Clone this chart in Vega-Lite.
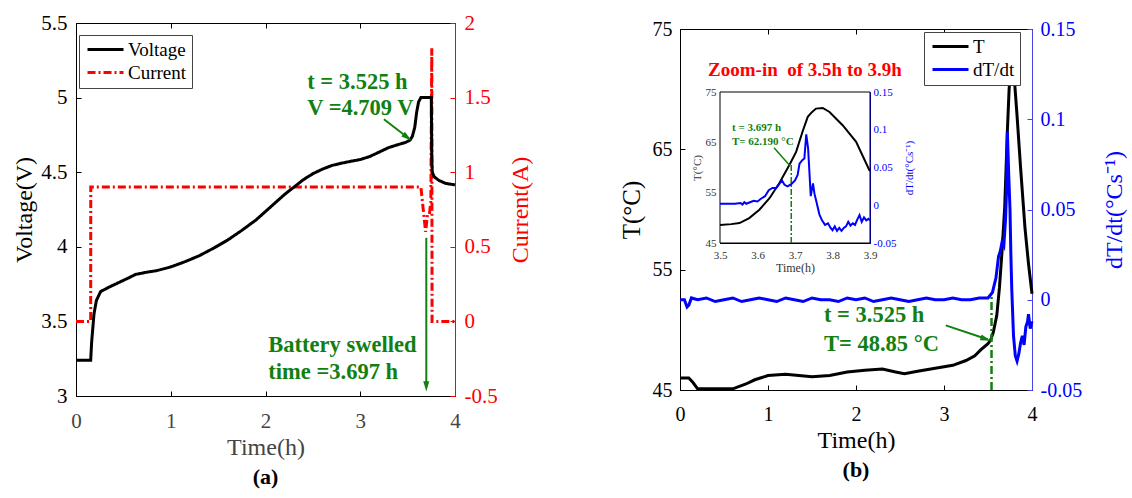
{
  "$schema": "https://vega.github.io/schema/vega-lite/v6.json",
  "background": "white",
  "padding": {"left": 12, "top": 11, "right": 0, "bottom": 0},
  "bounds": "flush",
  "center": true,
  "spacing": 225,
  "config": {
    "font": "Liberation Serif",
    "view": {"stroke": "black", "strokeWidth": 1},
    "axis": {"grid": false, "tickSize": -5, "tickColor": "black", "domainColor": "black", "labelColor": "black", "titleColor": "black", "titleFontWeight": "normal", "labelFont": "Liberation Serif", "titleFont": "Liberation Serif", "labelFlush": false, "labelOverlap": false, "labelExpr": "'' + datum.value"},
    "text": {"font": "Liberation Serif"},
    "title": {"font": "Liberation Serif", "color": "black"}
  },
  "resolve": {"scale": {"color": "independent", "strokeDash": "independent"}, "legend": {"color": "independent", "strokeDash": "independent"}},
  "datasets": {
    "volt": [
      {"t": 0, "v": 3.24}, {"t": 0.155, "v": 3.24}, {"t": 0.165, "v": 3.36}, {"t": 0.19, "v": 3.55}, {"t": 0.215, "v": 3.64}, {"t": 0.26, "v": 3.7}, {"t": 0.35, "v": 3.73}, {"t": 0.45, "v": 3.76}, {"t": 0.55, "v": 3.79}, {"t": 0.63, "v": 3.815}, {"t": 0.75, "v": 3.83}, {"t": 0.85, "v": 3.84}, {"t": 1.0, "v": 3.865}, {"t": 1.15, "v": 3.9}, {"t": 1.3, "v": 3.94}, {"t": 1.45, "v": 3.99}, {"t": 1.6, "v": 4.045}, {"t": 1.75, "v": 4.11}, {"t": 1.9, "v": 4.18}, {"t": 2.05, "v": 4.265}, {"t": 2.2, "v": 4.35}, {"t": 2.3, "v": 4.4}, {"t": 2.4, "v": 4.45}, {"t": 2.5, "v": 4.49}, {"t": 2.6, "v": 4.52}, {"t": 2.7, "v": 4.545}, {"t": 2.8, "v": 4.56}, {"t": 2.9, "v": 4.573}, {"t": 3.0, "v": 4.585}, {"t": 3.1, "v": 4.605}, {"t": 3.2, "v": 4.635}, {"t": 3.3, "v": 4.665}, {"t": 3.4, "v": 4.685}, {"t": 3.48, "v": 4.7}, {"t": 3.525, "v": 4.715}, {"t": 3.55, "v": 4.74}, {"t": 3.575, "v": 4.8}, {"t": 3.595, "v": 4.9}, {"t": 3.615, "v": 4.97}, {"t": 3.64, "v": 5.0}, {"t": 3.75, "v": 5.0}, {"t": 3.755, "v": 4.6}, {"t": 3.76, "v": 4.5}, {"t": 3.78, "v": 4.47}, {"t": 3.83, "v": 4.445}, {"t": 3.9, "v": 4.425}, {"t": 4.0, "v": 4.415}
    ],
    "curr": [
      {"t": 0, "i": 0}, {"t": 0.155, "i": 0}, {"t": 0.156, "i": 0.9}, {"t": 3.64, "i": 0.9}, {"t": 3.665, "i": 0.75}, {"t": 3.69, "i": 0.6}, {"t": 3.71, "i": 0.72}, {"t": 3.73, "i": 0.72}, {"t": 3.745, "i": 0.8}, {"t": 3.755, "i": 1.83}, {"t": 3.758, "i": 0.0}, {"t": 4.0, "i": 0.0}
    ],
    "textA": [
      {"t": 2.44, "v": 5.106, "label": "t = 3.525 h"},
      {"t": 2.44, "v": 4.931, "label": "V =4.709 V"},
      {"t": 2.03, "v": 3.341, "label": "Battery swelled"},
      {"t": 2.03, "v": 3.159, "label": "time =3.697 h"}
    ],
    "ruleA": [
      {"t": 3.25, "v": 4.855, "t2": 3.52, "v2": 4.722},
      {"t": 3.697, "v": 4.06, "t2": 3.697, "v2": 3.07}
    ],
    "headA1": [{"t": 3.54, "v": 4.713}],
    "headA2": [{"t": 3.697, "v": 3.03}],
    "tempMain": [
      {"t": 0, "T": 46.0}, {"t": 0.1, "T": 46.0}, {"t": 0.15, "T": 45.6}, {"t": 0.2, "T": 45.1}, {"t": 0.4, "T": 45.1}, {"t": 0.6, "T": 45.1}, {"t": 0.75, "T": 45.5}, {"t": 0.85, "T": 45.85}, {"t": 1.0, "T": 46.2}, {"t": 1.2, "T": 46.3}, {"t": 1.35, "T": 46.2}, {"t": 1.5, "T": 46.1}, {"t": 1.7, "T": 46.2}, {"t": 1.9, "T": 46.5}, {"t": 2.1, "T": 46.65}, {"t": 2.3, "T": 46.75}, {"t": 2.45, "T": 46.5}, {"t": 2.55, "T": 46.35}, {"t": 2.7, "T": 46.55}, {"t": 2.9, "T": 46.8}, {"t": 3.1, "T": 47.05}, {"t": 3.25, "T": 47.45}, {"t": 3.35, "T": 47.85}, {"t": 3.42, "T": 48.35}, {"t": 3.5, "T": 48.85}, {"t": 3.53, "T": 49.15}, {"t": 3.56, "T": 49.8}, {"t": 3.6, "T": 51.2}, {"t": 3.63, "T": 53.5}, {"t": 3.66, "T": 56.6}, {"t": 3.69, "T": 60.2}, {"t": 3.72, "T": 66.5}, {"t": 3.74, "T": 70.0}, {"t": 3.76, "T": 71.8}, {"t": 3.78, "T": 71.9}, {"t": 3.8, "T": 70.8}, {"t": 3.83, "T": 67.8}, {"t": 3.87, "T": 63.5}, {"t": 3.92, "T": 58.5}, {"t": 3.96, "T": 55.5}, {"t": 4.0, "T": 53.0}
    ],
    "dtMain": [
      {"t": 0, "d": 0.0}, {"t": 0.05, "d": 0.0}, {"t": 0.08, "d": -0.004}, {"t": 0.1, "d": -0.003}, {"t": 0.13, "d": 0.001}, {"t": 0.2, "d": 0.0}, {"t": 0.3, "d": 0.001}, {"t": 0.4, "d": -0.001}, {"t": 0.5, "d": 0.0}, {"t": 0.6, "d": 0.001}, {"t": 0.7, "d": -0.001}, {"t": 0.8, "d": 0.0}, {"t": 0.9, "d": 0.001}, {"t": 1.0, "d": 0.0}, {"t": 1.1, "d": -0.001}, {"t": 1.2, "d": 0.001}, {"t": 1.3, "d": 0.0}, {"t": 1.4, "d": -0.001}, {"t": 1.5, "d": 0.001}, {"t": 1.6, "d": 0.0}, {"t": 1.7, "d": 0.0}, {"t": 1.8, "d": -0.001}, {"t": 1.9, "d": 0.001}, {"t": 2.0, "d": 0.0}, {"t": 2.1, "d": 0.001}, {"t": 2.2, "d": -0.001}, {"t": 2.3, "d": 0.0}, {"t": 2.4, "d": 0.001}, {"t": 2.5, "d": 0.0}, {"t": 2.6, "d": -0.001}, {"t": 2.7, "d": 0.0}, {"t": 2.8, "d": 0.001}, {"t": 2.9, "d": 0.0}, {"t": 3.0, "d": 0.0}, {"t": 3.1, "d": 0.001}, {"t": 3.2, "d": 0.0}, {"t": 3.3, "d": 0.0}, {"t": 3.4, "d": 0.001}, {"t": 3.5, "d": 0.001}, {"t": 3.55, "d": 0.004}, {"t": 3.59, "d": 0.012}, {"t": 3.62, "d": 0.024}, {"t": 3.64, "d": 0.027}, {"t": 3.66, "d": 0.032}, {"t": 3.68, "d": 0.03}, {"t": 3.7, "d": 0.045}, {"t": 3.71, "d": 0.06}, {"t": 3.72, "d": 0.093}, {"t": 3.735, "d": 0.07}, {"t": 3.75, "d": 0.05}, {"t": 3.76, "d": 0.025}, {"t": 3.77, "d": 0.006}, {"t": 3.79, "d": -0.02}, {"t": 3.81, "d": -0.031}, {"t": 3.83, "d": -0.034}, {"t": 3.85, "d": -0.03}, {"t": 3.87, "d": -0.024}, {"t": 3.89, "d": -0.02}, {"t": 3.91, "d": -0.025}, {"t": 3.93, "d": -0.015}, {"t": 3.95, "d": -0.012}, {"t": 3.96, "d": -0.008}, {"t": 3.98, "d": -0.016}, {"t": 4.0, "d": -0.012}
    ],
    "tempIn": [
      {"t": 3.5, "T": 48.6}, {"t": 3.53, "T": 48.75}, {"t": 3.552, "T": 48.96}, {"t": 3.578, "T": 49.95}, {"t": 3.605, "T": 51.6}, {"t": 3.632, "T": 53.9}, {"t": 3.658, "T": 56.87}, {"t": 3.685, "T": 60.5}, {"t": 3.703, "T": 63.1}, {"t": 3.72, "T": 67.1}, {"t": 3.734, "T": 70.06}, {"t": 3.745, "T": 71.0}, {"t": 3.756, "T": 71.7}, {"t": 3.774, "T": 71.84}, {"t": 3.792, "T": 71.04}, {"t": 3.827, "T": 68.4}, {"t": 3.863, "T": 65.1}, {"t": 3.898, "T": 59.5}, {"t": 3.9, "T": 59.3}
    ],
    "dtIn": [
      {"t": 3.5, "d": 0.002}, {"t": 3.52, "d": 0.002}, {"t": 3.54, "d": 0.002}, {"t": 3.555, "d": 0.003}, {"t": 3.56, "d": 0.001}, {"t": 3.565, "d": 0.004}, {"t": 3.57, "d": 0.002}, {"t": 3.58, "d": 0.004}, {"t": 3.59, "d": 0.006}, {"t": 3.6, "d": 0.005}, {"t": 3.61, "d": 0.009}, {"t": 3.62, "d": 0.012}, {"t": 3.63, "d": 0.02}, {"t": 3.64, "d": 0.023}, {"t": 3.65, "d": 0.023}, {"t": 3.655, "d": 0.026}, {"t": 3.665, "d": 0.033}, {"t": 3.672, "d": 0.027}, {"t": 3.68, "d": 0.025}, {"t": 3.69, "d": 0.028}, {"t": 3.7, "d": 0.033}, {"t": 3.707, "d": 0.04}, {"t": 3.712, "d": 0.055}, {"t": 3.72, "d": 0.06}, {"t": 3.725, "d": 0.062}, {"t": 3.73, "d": 0.094}, {"t": 3.735, "d": 0.075}, {"t": 3.742, "d": 0.012}, {"t": 3.748, "d": 0.029}, {"t": 3.752, "d": 0.015}, {"t": 3.757, "d": 0.005}, {"t": 3.765, "d": -0.012}, {"t": 3.772, "d": -0.02}, {"t": 3.78, "d": -0.026}, {"t": 3.788, "d": -0.024}, {"t": 3.795, "d": -0.03}, {"t": 3.8, "d": -0.033}, {"t": 3.806, "d": -0.028}, {"t": 3.812, "d": -0.034}, {"t": 3.818, "d": -0.03}, {"t": 3.824, "d": -0.034}, {"t": 3.83, "d": -0.03}, {"t": 3.836, "d": -0.028}, {"t": 3.842, "d": -0.022}, {"t": 3.848, "d": -0.027}, {"t": 3.854, "d": -0.024}, {"t": 3.86, "d": -0.026}, {"t": 3.866, "d": -0.019}, {"t": 3.872, "d": -0.013}, {"t": 3.878, "d": -0.022}, {"t": 3.884, "d": -0.016}, {"t": 3.89, "d": -0.02}, {"t": 3.896, "d": -0.018}, {"t": 3.9, "d": -0.02}
    ],
    "textB": [
      {"t": 1.636, "T": 51.23, "label": "t = 3.525 h"},
      {"t": 1.636, "T": 48.84, "label": "T= 48.85 °C"}
    ],
    "zoomText": [{"t": 1.42, "T": 71.6, "label": "Zoom-in\u00a0 of 3.5h to 3.9h"}],
    "ruleB": [{"t": 3.02, "T": 50.37, "t2": 3.5, "T2": 49.2}],
    "headB": [{"t": 3.53, "T": 49.1}],
    "vlineB": [{"t": 3.54, "T": 45, "t2": 3.54, "T2": 52.9}],
    "frameIn": [{"t": 3.5, "t2": 3.9, "T": 45, "T2": 75}],
    "textIn": [
      {"t": 3.532, "T": 67.85, "label": "t = 3.697 h"},
      {"t": 3.532, "T": 65.07, "label": "T= 62.190 °C"}
    ],
    "ruleIn": [{"t": 3.644, "T": 63.9, "t2": 3.686, "T2": 60.4}],
    "vlineIn": [{"t": 3.69, "T": 45, "t2": 3.69, "T2": 60.5}]
  },
  "hconcat": [
    {
      "width": 379,
      "height": 373,
      "title": {"text": "(a)", "orient": "bottom", "fontSize": 22, "fontWeight": "bold", "offset": 8},
      "resolve": {"scale": {"y": "independent"}, "axis": {"x": "independent", "y": "independent"}},
      "layer": [
        {
          "data": {"name": "curr"},
          "mark": {"type": "line", "strokeWidth": 3},
          "encoding": {
            "x": {"field": "t", "type": "quantitative", "scale": {"domain": [0, 4], "nice": false}, "axis": {"orient": "top", "values": [0, 1, 2, 3, 4], "labels": false, "title": null, "domain": false}},
            "y": {"field": "i", "type": "quantitative", "scale": {"domain": [-0.5, 2], "nice": false, "zero": false}, "axis": {"orient": "right", "values": [-0.5, 0, 0.5, 1, 1.5, 2], "labelFontSize": 21, "labelColor": "red", "title": "Current(A)", "titleColor": "red", "titleFontSize": 24, "titleAngle": 270, "titleBaseline": "top", "domainColor": "red", "tickColor": "red", "labelPadding": 14, "titlePadding": 11}},
            "color": {"datum": "Current", "scale": {"domain": ["Voltage", "Current"], "range": ["black", "red"]}, "legend": {"title": null, "orient": "none", "legendX": 3, "legendY": 12, "symbolType": "M-3,0L3,0", "symbolSize": 144, "symbolStrokeWidth": 3, "symbolOffset": 12, "labelOffset": 13, "labelFontSize": 19, "labelFont": "Liberation Serif", "labelColor": "black", "strokeColor": "#444", "fillColor": "white", "padding": 5, "rowPadding": 3}},
            "strokeDash": {"datum": "Current", "scale": {"domain": ["Voltage", "Current"], "range": [[1, 0], [8, 3, 2, 3]]}, "legend": {"title": null, "orient": "none", "legendX": 3, "legendY": 12, "symbolType": "M-3,0L3,0", "symbolSize": 144, "symbolStrokeWidth": 3, "symbolOffset": 12, "labelOffset": 13, "labelFontSize": 19, "labelFont": "Liberation Serif", "labelColor": "black", "strokeColor": "#444", "fillColor": "white", "padding": 5, "rowPadding": 3}}
          }
        },
        {
          "data": {"name": "volt"},
          "mark": {"type": "line", "strokeWidth": 3},
          "encoding": {
            "x": {"field": "t", "type": "quantitative", "scale": {"domain": [0, 4], "nice": false}, "axis": {"orient": "bottom", "values": [0, 1, 2, 3, 4], "labelFontSize": 21, "labelColor": "#444", "title": "Time(h)", "titleColor": "#444", "titleFontSize": 24, "labelPadding": 19, "titlePadding": 4}},
            "y": {"field": "v", "type": "quantitative", "scale": {"domain": [3, 5.5], "nice": false, "zero": false}, "axis": {"orient": "left", "values": [3, 3.5, 4, 4.5, 5, 5.5], "labelFontSize": 21, "title": "Voltage(V)", "titleFontSize": 24, "labelPadding": 14, "titlePadding": 4}},
            "color": {"datum": "Voltage"},
            "strokeDash": {"datum": "Voltage"}
          }
        },
        {
          "data": {"name": "textA"},
          "mark": {"type": "text", "align": "left", "baseline": "middle", "fontSize": 22.5, "fontWeight": "bold", "color": "#118011"},
          "encoding": {
            "x": {"field": "t", "type": "quantitative", "axis": null},
            "y": {"field": "v", "type": "quantitative", "scale": {"domain": [3, 5.5], "nice": false, "zero": false}, "axis": null},
            "text": {"field": "label"}
          }
        },
        {
          "data": {"name": "ruleA"},
          "mark": {"type": "rule", "strokeWidth": 2, "color": "#118011"},
          "encoding": {
            "x": {"field": "t", "type": "quantitative", "axis": null},
            "y": {"field": "v", "type": "quantitative", "scale": {"domain": [3, 5.5], "nice": false, "zero": false}, "axis": null},
            "x2": {"field": "t2"},
            "y2": {"field": "v2"}
          }
        },
        {
          "data": {"name": "headA1"},
          "mark": {"type": "point", "shape": "M0,0L-0.35,-1.2L0.35,-1.2Z", "filled": true, "opacity": 1, "size": 300, "angle": 307, "color": "#118011"},
          "encoding": {
            "x": {"field": "t", "type": "quantitative", "axis": null},
            "y": {"field": "v", "type": "quantitative", "scale": {"domain": [3, 5.5], "nice": false, "zero": false}, "axis": null}
          }
        },
        {
          "data": {"name": "headA2"},
          "mark": {"type": "point", "shape": "M0,0L-0.35,-1.2L0.35,-1.2Z", "filled": true, "opacity": 1, "size": 300, "angle": 0, "color": "#118011"},
          "encoding": {
            "x": {"field": "t", "type": "quantitative", "axis": null},
            "y": {"field": "v", "type": "quantitative", "scale": {"domain": [3, 5.5], "nice": false, "zero": false}, "axis": null}
          }
        }
      ]
    },
    {
      "width": 352,
      "height": 361,
      "title": {"text": "(b)", "orient": "bottom", "fontSize": 22, "fontWeight": "bold", "offset": 8},
      "resolve": {"scale": {"x": "independent", "y": "independent"}, "axis": {"x": "independent", "y": "independent"}},
      "layer": [
        {
          "data": {"name": "tempMain"},
          "mark": {"type": "line", "strokeWidth": 3},
          "encoding": {
            "x": {"field": "t", "type": "quantitative", "scale": {"domain": [0, 4], "nice": false}, "axis": {"orient": "bottom", "values": [0, 1, 2, 3, 4], "labelFontSize": 20, "title": "Time(h)", "titleFontSize": 24, "labelPadding": 19, "titlePadding": 4}},
            "y": {"field": "T", "type": "quantitative", "scale": {"domain": [45, 75], "nice": false, "zero": false}, "axis": {"orient": "left", "values": [45, 55, 65, 75], "labelFontSize": 20, "title": "T(°C)", "titleFontSize": 25, "labelPadding": 13, "titlePadding": 8}},
            "color": {"datum": "T", "scale": {"domain": ["T", "dT/dt"], "range": ["black", "blue"]}, "legend": {"title": null, "orient": "none", "legendX": 244, "legendY": 3, "symbolType": "M-3,0L3,0", "symbolSize": 144, "symbolStrokeWidth": 3, "symbolOffset": 12, "labelOffset": 13, "labelFontSize": 19, "labelFont": "Liberation Serif", "labelColor": "black", "strokeColor": "#444", "fillColor": "white", "padding": 5, "rowPadding": 3}}
          }
        },
        {
          "data": {"name": "zoomText"},
          "mark": {"type": "text", "align": "center", "baseline": "middle", "fontSize": 19, "fontWeight": "bold", "color": "red"},
          "encoding": {
            "x": {"field": "t", "type": "quantitative", "scale": {"domain": [0, 4], "nice": false}, "axis": null},
            "y": {"field": "T", "type": "quantitative", "scale": {"domain": [45, 75], "nice": false, "zero": false}, "axis": null},
            "text": {"field": "label"}
          }
        },
        {
          "data": {"name": "textB"},
          "mark": {"type": "text", "align": "left", "baseline": "middle", "fontSize": 22.5, "fontWeight": "bold", "color": "#118011"},
          "encoding": {
            "x": {"field": "t", "type": "quantitative", "scale": {"domain": [0, 4], "nice": false}, "axis": null},
            "y": {"field": "T", "type": "quantitative", "scale": {"domain": [45, 75], "nice": false, "zero": false}, "axis": null},
            "text": {"field": "label"}
          }
        },
        {
          "data": {"name": "ruleB"},
          "mark": {"type": "rule", "strokeWidth": 2, "color": "#118011"},
          "encoding": {
            "x": {"field": "t", "type": "quantitative", "scale": {"domain": [0, 4], "nice": false}, "axis": null},
            "y": {"field": "T", "type": "quantitative", "scale": {"domain": [45, 75], "nice": false, "zero": false}, "axis": null},
            "x2": {"field": "t2"},
            "y2": {"field": "T2"}
          }
        },
        {
          "data": {"name": "headB"},
          "mark": {"type": "point", "shape": "M0,0L-0.35,-1.2L0.35,-1.2Z", "filled": true, "opacity": 1, "size": 300, "angle": 288, "color": "#118011"},
          "encoding": {
            "x": {"field": "t", "type": "quantitative", "scale": {"domain": [0, 4], "nice": false}, "axis": null},
            "y": {"field": "T", "type": "quantitative", "scale": {"domain": [45, 75], "nice": false, "zero": false}, "axis": null}
          }
        },
        {
          "data": {"name": "vlineB"},
          "mark": {"type": "rule", "strokeWidth": 2.5, "color": "#118011", "strokeDash": [8, 3, 2, 3]},
          "encoding": {
            "x": {"field": "t", "type": "quantitative", "scale": {"domain": [0, 4], "nice": false}, "axis": null},
            "y": {"field": "T", "type": "quantitative", "scale": {"domain": [45, 75], "nice": false, "zero": false}, "axis": null},
            "x2": {"field": "t2"},
            "y2": {"field": "T2"}
          }
        },
        {
          "data": {"name": "dtMain"},
          "mark": {"type": "line", "strokeWidth": 3},
          "encoding": {
            "x": {"field": "t", "type": "quantitative", "scale": {"domain": [0, 4], "nice": false}, "axis": {"orient": "top", "values": [0, 1, 2, 3, 4], "labels": false, "title": null, "domain": false}},
            "y": {"field": "d", "type": "quantitative", "scale": {"domain": [-0.05, 0.15], "nice": false, "zero": false}, "axis": {"orient": "right", "values": [-0.05, 0, 0.05, 0.1, 0.15], "labelFontSize": 20, "labelColor": "blue", "title": "dT/dt(°Cs⁻¹)", "titleColor": "blue", "titleFontSize": 24, "titleAngle": 270, "titleBaseline": "top", "domainColor": "#4646e6", "tickColor": "#4646e6", "labelPadding": 13, "titlePadding": 21}},
            "color": {"datum": "dT/dt"}
          }
        },
        {
          "data": {"name": "frameIn"},
          "mark": {"type": "rect", "fill": "white", "stroke": "black", "strokeWidth": 1},
          "encoding": {
            "x": {"field": "t", "type": "quantitative", "scale": {"domain": [3.5, 3.9], "range": [40, 190], "nice": false, "zero": false}, "axis": null},
            "x2": {"field": "t2"},
            "y": {"field": "T", "type": "quantitative", "scale": {"domain": [45, 75], "range": [214, 63], "nice": false, "zero": false}, "axis": null},
            "y2": {"field": "T2"}
          }
        },
        {
          "data": {"name": "tempIn"},
          "mark": {"type": "line", "strokeWidth": 2, "color": "black"},
          "encoding": {
            "x": {"field": "t", "type": "quantitative", "scale": {"domain": [3.5, 3.9], "range": [40, 190], "nice": false, "zero": false}, "axis": {"orient": "bottom", "offset": -147, "values": [3.5, 3.6, 3.7, 3.8, 3.9], "labelFontSize": 11, "labelColor": "#333", "title": "Time(h)", "titleFontSize": 12, "titleColor": "#333", "tickSize": -3, "labelPadding": 9, "titlePadding": 2}},
            "y": {"field": "T", "type": "quantitative", "scale": {"domain": [45, 75], "range": [214, 63], "nice": false, "zero": false}, "axis": {"orient": "left", "offset": -40, "values": [45, 55, 65, 75], "labelFontSize": 11, "labelColor": "#333", "title": "T(°C)", "titleFontSize": 11, "titleColor": "#333", "tickSize": -3, "labelPadding": 7, "titlePadding": 3}}
          }
        },
        {
          "data": {"name": "textIn"},
          "mark": {"type": "text", "align": "left", "baseline": "middle", "fontSize": 11, "fontWeight": "bold", "color": "#118011"},
          "encoding": {
            "x": {"field": "t", "type": "quantitative", "scale": {"domain": [3.5, 3.9], "range": [40, 190], "nice": false, "zero": false}, "axis": null},
            "y": {"field": "T", "type": "quantitative", "scale": {"domain": [45, 75], "range": [214, 63], "nice": false, "zero": false}, "axis": null},
            "text": {"field": "label"}
          }
        },
        {
          "data": {"name": "ruleIn"},
          "mark": {"type": "rule", "strokeWidth": 1.5, "color": "#118011"},
          "encoding": {
            "x": {"field": "t", "type": "quantitative", "scale": {"domain": [3.5, 3.9], "range": [40, 190], "nice": false, "zero": false}, "axis": null},
            "y": {"field": "T", "type": "quantitative", "scale": {"domain": [45, 75], "range": [214, 63], "nice": false, "zero": false}, "axis": null},
            "x2": {"field": "t2"},
            "y2": {"field": "T2"}
          }
        },
        {
          "data": {"name": "vlineIn"},
          "mark": {"type": "rule", "strokeWidth": 1.5, "color": "#118011", "strokeDash": [6, 2, 2, 2]},
          "encoding": {
            "x": {"field": "t", "type": "quantitative", "scale": {"domain": [3.5, 3.9], "range": [40, 190], "nice": false, "zero": false}, "axis": null},
            "y": {"field": "T", "type": "quantitative", "scale": {"domain": [45, 75], "range": [214, 63], "nice": false, "zero": false}, "axis": null},
            "x2": {"field": "t2"},
            "y2": {"field": "T2"}
          }
        },
        {
          "data": {"name": "dtIn"},
          "mark": {"type": "line", "strokeWidth": 2, "color": "blue"},
          "encoding": {
            "x": {"field": "t", "type": "quantitative", "scale": {"domain": [3.5, 3.9], "range": [40, 190], "nice": false, "zero": false}, "axis": null},
            "y": {"field": "d", "type": "quantitative", "scale": {"domain": [-0.05, 0.15], "range": [214, 63], "nice": false, "zero": false}, "axis": {"orient": "right", "offset": -162, "values": [-0.05, 0, 0.05, 0.1, 0.15], "labelFontSize": 11, "labelColor": "blue", "title": "dT/dt(°Cs⁻¹)", "titleFontSize": 11, "titleColor": "blue", "titleAngle": 270, "titleBaseline": "top", "domainColor": "blue", "tickColor": "blue", "tickSize": -3, "labelPadding": 6, "titlePadding": 8}}
          }
        }
      ]
    }
  ]
}
